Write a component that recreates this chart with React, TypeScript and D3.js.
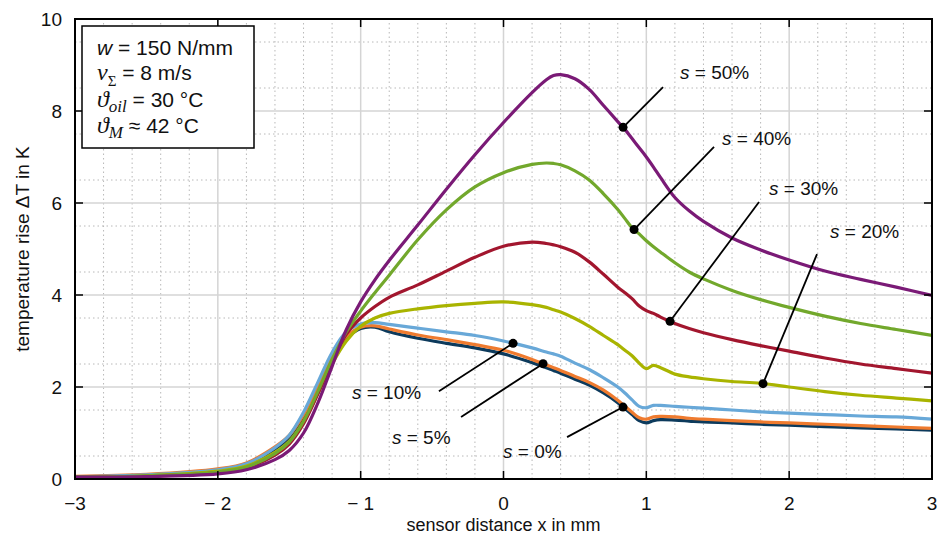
import { useEffect, useRef } from "react";
import * as d3 from "d3";

// sample positions (sensor distance x in mm)
const xs = [-3, -2.5, -2, -1.8, -1.6, -1.5, -1.4, -1.3, -1.2, -1.1, -1.0, -0.9, -0.8, -0.6, -0.4, -0.2, 0, 0.2, 0.3, 0.35, 0.4, 0.5, 0.6, 0.7, 0.8, 0.85, 0.9, 0.95, 1.0, 1.05, 1.1, 1.2, 1.3, 1.4, 1.6, 1.8, 2.0, 2.25, 2.5, 2.75, 3.0];

// temperature rise in K, one array per slip ratio
const s0 = [0.05, 0.08, 0.19, 0.32, 0.65, 0.9, 1.35, 1.95, 2.6, 3.05, 3.27, 3.3, 3.2, 3.06, 2.95, 2.85, 2.72, 2.53, 2.42, 2.36, 2.3, 2.17, 2.04, 1.87, 1.66, 1.53, 1.4, 1.27, 1.22, 1.27, 1.29, 1.28, 1.26, 1.24, 1.22, 1.19, 1.17, 1.14, 1.11, 1.09, 1.06];
const s5 = [0.06, 0.1, 0.22, 0.35, 0.7, 0.95, 1.4, 2.0, 2.65, 3.1, 3.3, 3.33, 3.26, 3.13, 3.03, 2.92, 2.8, 2.6, 2.48, 2.42, 2.36, 2.23, 2.1, 1.93, 1.71, 1.58, 1.45, 1.33, 1.3, 1.35, 1.36, 1.35, 1.32, 1.3, 1.27, 1.24, 1.22, 1.19, 1.16, 1.13, 1.1];
const s10 = [0.05, 0.09, 0.2, 0.33, 0.68, 0.95, 1.45, 2.1, 2.75, 3.2, 3.37, 3.4, 3.36, 3.28, 3.2, 3.12, 3.0, 2.85, 2.76, 2.72, 2.67, 2.52, 2.38, 2.2, 2.0, 1.87, 1.72, 1.58, 1.55, 1.6, 1.6, 1.58, 1.56, 1.54, 1.5, 1.46, 1.43, 1.4, 1.37, 1.35, 1.3];
const s20 = [0.04, 0.07, 0.17, 0.28, 0.58, 0.82, 1.25, 1.85, 2.5, 3.0, 3.32, 3.5, 3.6, 3.7, 3.77, 3.82, 3.85, 3.79, 3.73, 3.68, 3.63, 3.49, 3.32, 3.12, 2.92, 2.8, 2.68, 2.52, 2.4, 2.47, 2.42, 2.28, 2.22, 2.18, 2.12, 2.08, 2.0, 1.9, 1.82, 1.76, 1.7];
const s30 = [0.04, 0.06, 0.14, 0.24, 0.52, 0.76, 1.2, 1.85, 2.55, 3.15, 3.5, 3.75, 3.95, 4.22, 4.52, 4.82, 5.06, 5.15, 5.12, 5.09, 5.05, 4.93, 4.72, 4.45, 4.17, 4.05, 3.92, 3.76, 3.66, 3.6, 3.52, 3.38, 3.27, 3.18, 3.03, 2.9, 2.78, 2.63, 2.5, 2.4, 2.3];
const s40 = [0.04, 0.07, 0.15, 0.26, 0.55, 0.8, 1.25, 1.9, 2.6, 3.2, 3.65, 4.05, 4.43, 5.2, 5.85, 6.35, 6.66, 6.84, 6.87, 6.86, 6.83, 6.7, 6.5, 6.2, 5.86, 5.66, 5.46, 5.33, 5.18, 5.05, 4.93, 4.7, 4.5, 4.35, 4.1, 3.9, 3.73, 3.54, 3.38, 3.25, 3.12];
const s50 = [0.04, 0.05, 0.11, 0.2, 0.42, 0.62, 1.0, 1.65, 2.45, 3.25, 3.85, 4.33, 4.75, 5.52, 6.3, 7.05, 7.75, 8.4, 8.68, 8.77, 8.79, 8.7, 8.47, 8.12, 7.77, 7.6, 7.4, 7.2, 7.0, 6.78, 6.55, 6.12, 5.83, 5.6, 5.24, 4.98, 4.76, 4.52, 4.34, 4.17, 3.99];

const slips = ["0%", "5%", "10%", "20%", "30%", "40%", "50%"];
const colors = ["#0c3a5c", "#ef7b2f", "#68a8d8", "#a9b400", "#a2162e", "#72a82c", "#7a1a76"];
const values = [s0, s5, s10, s20, s30, s40, s50];

const xTicks = [-3, -2, -1, 0, 1, 2, 3];
const xTickLabels = ["\u22123", "\u2212 2", "\u2212 1", "0", "1", "2", "3"];
const yTicks = [0, 2, 4, 6, 8, 10];

// callouts: dot x on the curve, line end and label anchor (data units)
const notes = [
  { s: 6, dotX: 0.837, ex: 1.117, ey: 8.52, lx: 1.236, ly: 8.7 },
  { s: 5, dotX: 0.914, ex: 1.474, ey: 7.22, lx: 1.53, ly: 7.27 },
  { s: 4, dotX: 1.166, ex: 1.789, ey: 6.02, lx: 1.859, ly: 6.18 },
  { s: 3, dotX: 1.817, ex: 2.195, ey: 4.89, lx: 2.286, ly: 5.23 },
  { s: 2, dotX: 0.067, ex: -0.452, ey: 1.91, lx: -1.061, ly: 1.73 },
  { s: 1, dotX: 0.277, ex: -0.297, ey: 1.35, lx: -0.781, ly: 0.77 },
  { s: 0, dotX: 0.837, ex: 0.445, ey: 0.91, lx: -0.003, ly: 0.45 },
];

const FONT = "Arial, 'Liberation Sans', sans-serif";
const MATH = "'Liberation Serif', 'DejaVu Serif', serif";

const TempRiseChart = () => {
  const ref = useRef<SVGSVGElement | null>(null);

  useEffect(() => {
    document.body.style.margin = "0";
    const el = ref.current;
    if (!el) return;
    d3.select(el).selectAll("*").remove();

    const W = 942, H = 537;
    const m = { top: 19, right: 10, bottom: 58, left: 75 };
    const svg = d3.select(el).attr("width", W).attr("height", H);

    const x = d3.scaleLinear().domain([-3, 3]).range([m.left, W - m.right]);
    const y = d3.scaleLinear().domain([0, 10]).range([H - m.bottom, m.top]);
    const [x0, x1] = x.range();
    const [y0, y1] = y.range();

    svg.append("rect").attr("width", W).attr("height", H).attr("fill", "#fff");

    // ── grid ─────────────────────────────────────────
    const grid = svg.append("g");
    const isInt = (v: number) => Math.abs(v - Math.round(v)) < 1e-6;
    const minorX = d3.range(-3, 3.0001, 0.2).filter(v => !isInt(v));
    const minorY = d3.range(0, 10.0001, 0.5).filter(v => !isInt(v));
    grid.selectAll(".mx").data(minorX).enter().append("line")
      .attr("x1", d => x(d)).attr("x2", d => x(d)).attr("y1", y0).attr("y2", y1)
      .attr("stroke", "#b8b8b8").attr("stroke-width", 1).attr("stroke-dasharray", "1.5,3");
    grid.selectAll(".my").data(minorY).enter().append("line")
      .attr("y1", d => y(d)).attr("y2", d => y(d)).attr("x1", x0).attr("x2", x1)
      .attr("stroke", "#b8b8b8").attr("stroke-width", 1).attr("stroke-dasharray", "1.5,3");
    grid.selectAll(".gx").data(xTicks.slice(1, -1)).enter().append("line")
      .attr("x1", d => x(d)).attr("x2", d => x(d)).attr("y1", y0).attr("y2", y1)
      .attr("stroke", "#d4d4d4").attr("stroke-width", 1.5);
    grid.selectAll(".gy").data(yTicks.slice(1, -1)).enter().append("line")
      .attr("y1", d => y(d)).attr("y2", d => y(d)).attr("x1", x0).attr("x2", x1)
      .attr("stroke", "#d4d4d4").attr("stroke-width", 1.5);

    // ── curves ───────────────────────────────────────
    svg.append("clipPath").attr("id", "plotclip").append("rect")
      .attr("x", x0).attr("y", y1).attr("width", x1 - x0).attr("height", y0 - y1);
    const line = d3.line<number>()
      .x((_, i) => x(xs[i]))
      .y(d => y(d))
      .curve(d3.curveCatmullRom.alpha(0.5));
    svg.append("g").attr("clip-path", "url(#plotclip)")
      .selectAll("path").data(values).enter().append("path")
      .attr("d", d => line(d))
      .attr("fill", "none")
      .attr("stroke", (_, i) => colors[i])
      .attr("stroke-width", 3.2)
      .attr("stroke-linejoin", "round");

    // ── frame and ticks ──────────────────────────────
    svg.append("rect")
      .attr("x", x0).attr("y", y1).attr("width", x1 - x0).attr("height", y0 - y1)
      .attr("fill", "none").attr("stroke", "#000").attr("stroke-width", 2);
    const tl = 8;
    const ticks = svg.append("g").attr("stroke", "#000").attr("stroke-width", 1.5);
    xTicks.slice(1, -1).forEach(t => {
      ticks.append("line").attr("x1", x(t)).attr("x2", x(t)).attr("y1", y0).attr("y2", y0 - tl);
      ticks.append("line").attr("x1", x(t)).attr("x2", x(t)).attr("y1", y1).attr("y2", y1 + tl);
    });
    yTicks.slice(1, -1).forEach(t => {
      ticks.append("line").attr("y1", y(t)).attr("y2", y(t)).attr("x1", x0).attr("x2", x0 + tl);
      ticks.append("line").attr("y1", y(t)).attr("y2", y(t)).attr("x1", x1).attr("x2", x1 - tl);
    });

    svg.append("g").selectAll("text").data(xTicks).enter().append("text")
      .attr("x", d => x(d)).attr("y", y0 + 31)
      .attr("text-anchor", "middle")
      .style("font-family", FONT).style("font-size", "19px").style("fill", "#111")
      .text((_, i) => xTickLabels[i]);
    svg.append("g").selectAll("text").data(yTicks).enter().append("text")
      .attr("x", x0 - 13).attr("y", d => y(d)).attr("dy", "0.36em")
      .attr("text-anchor", "end")
      .style("font-family", FONT).style("font-size", "19px").style("fill", "#111")
      .text(d => d);

    svg.append("text")
      .attr("x", (x0 + x1) / 2).attr("y", 531)
      .attr("text-anchor", "middle")
      .style("font-family", FONT).style("font-size", "18px").style("fill", "#111")
      .text("sensor distance x in mm");
    svg.append("text")
      .attr("transform", `translate(29,${(y0 + y1) / 2}) rotate(-90)`)
      .attr("text-anchor", "middle")
      .style("font-family", FONT).style("font-size", "19px").style("fill", "#111")
      .text("temperature rise \u0394T in K");

    // ── operating conditions box ─────────────────────
    svg.append("rect")
      .attr("x", 82).attr("y", 26).attr("width", 172).attr("height", 122)
      .attr("fill", "#fff").attr("stroke", "#000").attr("stroke-width", 1.5);
    const box = svg.append("g").style("font-family", FONT).style("font-size", "21px").style("fill", "#111");
    const row = (yy: number) => box.append("text").attr("x", 97).attr("y", yy);

    const r1 = row(55);
    r1.append("tspan").style("font-style", "italic").text("w");
    r1.append("tspan").text(" = 150 N/mm");

    const r2 = row(80);
    r2.append("tspan").style("font-family", MATH).style("font-style", "italic").style("font-size", "24px").text("v");
    r2.append("tspan").style("font-family", MATH).style("font-size", "15px").attr("dy", 6).text("\u03A3");
    r2.append("tspan").attr("dy", -6).text(" = 8 m/s");

    const r3 = row(107);
    r3.append("tspan").style("font-family", MATH).style("font-style", "italic").style("font-size", "24px").text("\u03D1");
    r3.append("tspan").style("font-family", MATH).style("font-style", "italic").style("font-size", "17px").attr("dy", 5).text("oil");
    r3.append("tspan").attr("dy", -5).text(" = 30 \u00B0C");

    const r4 = row(133);
    r4.append("tspan").style("font-family", MATH).style("font-style", "italic").style("font-size", "24px").text("\u03D1");
    r4.append("tspan").style("font-family", MATH).style("font-style", "italic").style("font-size", "17px").attr("dy", 5).text("M");
    r4.append("tspan").attr("dy", -5).text(" \u2248 42 \u00B0C");

    // ── callouts ─────────────────────────────────────
    const ann = svg.append("g");
    notes.forEach(n => {
      const dotY = d3.scaleLinear().domain(xs).range(values[n.s])(n.dotX);
      ann.append("line")
        .attr("x1", x(n.dotX)).attr("y1", y(dotY))
        .attr("x2", x(n.ex)).attr("y2", y(n.ey))
        .attr("stroke", "#000").attr("stroke-width", 1.8);
      ann.append("circle")
        .attr("cx", x(n.dotX)).attr("cy", y(dotY)).attr("r", 4.5).attr("fill", "#000");
      const t = ann.append("text")
        .attr("x", x(n.lx)).attr("y", y(n.ly))
        .style("font-family", FONT).style("font-size", "19px").style("fill", "#111");
      t.append("tspan").style("font-style", "italic").text("s");
      t.append("tspan").text(` = ${slips[n.s]}`);
    });

    return () => { d3.select(el).selectAll("*").remove(); };
  }, []);

  return <svg ref={ref} style={{ display: "block" }} />;
};

export default function App() {
  return <TempRiseChart />;
}
